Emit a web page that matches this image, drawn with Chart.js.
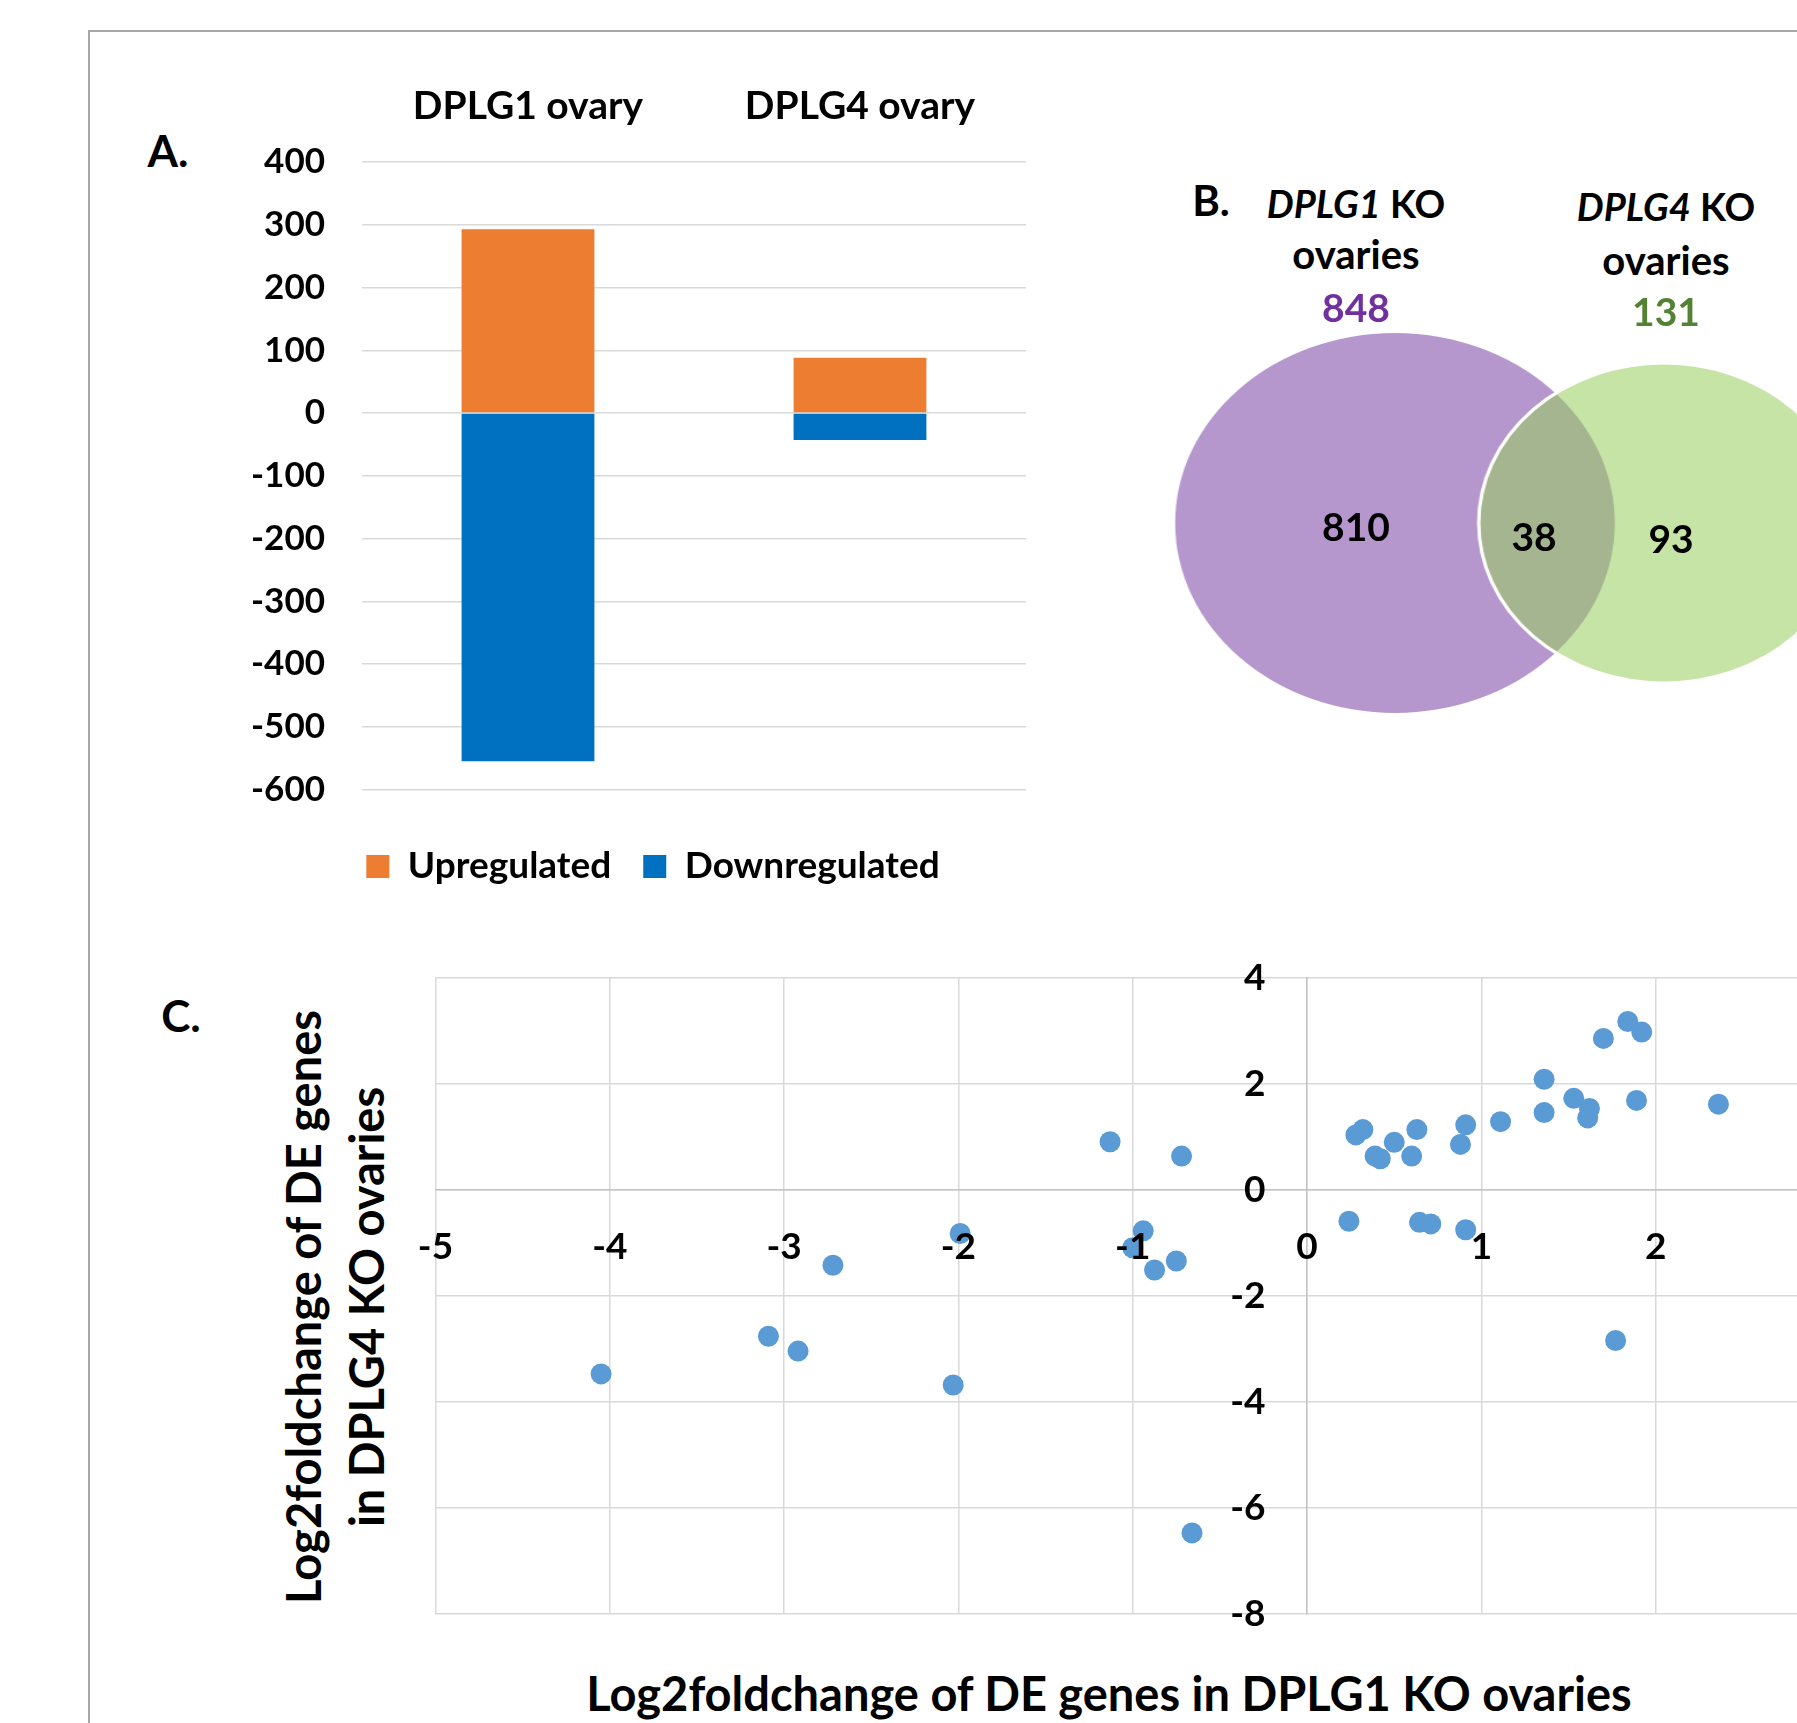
<!DOCTYPE html>
<html>
<head>
<meta charset="utf-8">
<script src="https://cdn.jsdelivr.net/npm/chart.js@4.4.1/dist/chart.umd.min.js"></script>
<style>
  html, body { margin: 0; padding: 0; background: #fff; width: 1797px; height: 1723px; overflow: hidden; }
  body { position: relative; font-family: Lato, "Open Sans", sans-serif; font-weight: 700; color: #000; }
  .frame { position: absolute; left: 88px; top: 30px; width: 1800px; height: 1800px;
           border-left: 2px solid #a6a6a6; border-top: 2px solid #a6a6a6; }
  .box { position: absolute; }
  .t { position: absolute; transform: translate(-50%, -50%); white-space: nowrap; line-height: 1; }
</style>
</head>
<body>
<div class="frame"></div>

<div class="box" style="left:200px;top:60px;width:880px;height:835px"><canvas id="chartA"></canvas></div>
<div class="box" style="left:1150px;top:300px;width:680px;height:446px;transform:scaleX(1.157);transform-origin:0 0"><canvas id="chartB"></canvas></div>
<div class="box" style="left:400px;top:940px;width:1460px;height:700px"><canvas id="chartC"></canvas></div>

<div class="t" style="left:168px;top:150px;font-size:44px">A.</div>
<div class="t" style="left:1211px;top:200px;font-size:42px">B.</div>
<div class="t" style="left:181px;top:1015px;font-size:44px">C.</div>

<div class="t" style="left:1356px;top:203px;font-size:38px"><i>DPLG1</i> KO</div>
<div class="t" style="left:1356px;top:254px;font-size:40px">ovaries</div>
<div class="t" style="left:1356px;top:307px;font-size:39px;color:#7030a0" id="total1"></div>
<div class="t" style="left:1666px;top:206px;font-size:38px"><i>DPLG4</i> KO</div>
<div class="t" style="left:1666px;top:260px;font-size:40px">ovaries</div>
<div class="t" style="left:1666px;top:311px;font-size:39px;color:#548235" id="total2"></div>
<div class="t" style="left:1356px;top:526px;font-size:39px" id="only1"></div>
<div class="t" style="left:1534px;top:536px;font-size:39px" id="both"></div>
<div class="t" style="left:1671px;top:538px;font-size:39px" id="only2"></div>

<div class="t" style="left:335px;top:1307px;font-size:47px;line-height:63px;text-align:center;transform:translate(-50%,-50%) rotate(-90deg)">Log2foldchange of DE genes<br>in DPLG4 KO ovaries</div>
<div class="t" style="left:1109px;top:1693px;font-size:47px">Log2foldchange of DE genes in DPLG1 KO ovaries</div>

<script>
// A: DE gene counts per ovary
const barCategories = ['DPLG1 ovary', 'DPLG4 ovary'];
const upregulated = [293, 88];
const downregulated = [-555, -43];

// B: Venn counts
const vennTotals = [848, 131];
const vennOnly = [810, 93];
const vennShared = 38;

// C: log2 fold change, x = DPLG1 KO, y = DPLG4 KO
const lfcDPLG1 = [-1.13, -0.72, 0.28, 0.32, 0.39, 0.42, 0.50, 0.60, 0.63, 0.88, 0.91, 1.11, 1.36, 1.36,
  1.53, 1.62, 1.61, 1.70, 1.84, 1.92, 1.89, 2.36, 0.24, 0.645, 0.71, 0.91, 1.77, -0.94, -1.0, -0.875,
  -0.75, -1.99, -2.72, -3.09, -2.92, -4.05, -2.03, -0.66];
const lfcDPLG4 = [0.91, 0.64, 1.04, 1.14, 0.64, 0.59, 0.90, 0.64, 1.14, 0.86, 1.23, 1.29, 2.09, 1.46,
  1.73, 1.54, 1.36, 2.86, 3.18, 2.98, 1.69, 1.62, -0.59, -0.61, -0.64, -0.75, -2.84, -0.77, -1.09, -1.51,
  -1.34, -0.82, -1.42, -2.76, -3.04, -3.47, -3.68, -6.47];

document.getElementById('total1').textContent = vennTotals[0];
document.getElementById('total2').textContent = vennTotals[1];
document.getElementById('only1').textContent = vennOnly[0];
document.getElementById('only2').textContent = vennOnly[1];
document.getElementById('both').textContent = vennShared;

Chart.defaults.font.family = 'Lato';
Chart.defaults.font.weight = 'bold';
Chart.defaults.color = '#000';
Chart.defaults.animation = false;

const fixW = w => s => { s.width = w; };
const fixH = h => s => { s.height = h; };
// axes drawn inside the plot: take no room, no label overhang
const noRoom = s => {
  if (s.isHorizontal()) s.height = 0; else s.width = 0;
  s.paddingLeft = s.paddingRight = s.paddingTop = s.paddingBottom = 0;
};

new Chart(document.getElementById('chartA'), {
  type: 'bar',
  data: {
    labels: barCategories,
    datasets: [
      {label: 'Upregulated', data: upregulated, backgroundColor: '#ed7d31'},
      {label: 'Downregulated', data: downregulated, backgroundColor: '#0070c0'}
    ]
  },
  options: {
    responsive: true,
    maintainAspectRatio: false,
    events: [],
    layout: {padding: {left: 26, right: 0, top: 0, bottom: 0}},
    barPercentage: 0.4,
    categoryPercentage: 1.0,
    plugins: {
      tooltip: {enabled: false},
      legend: {
        position: 'bottom',
        labels: {boxWidth: 23, boxHeight: 23, padding: 32, font: {size: 37, weight: 'bold'}}
      }
    },
    scales: {
      x: {
        stacked: true, position: 'top',
        grid: {display: false}, border: {display: false},
        ticks: {font: {size: 39}, padding: 24},
        afterFit: fixH(102)
      },
      xB: {
        position: 'bottom', grid: {display: false}, border: {display: false},
        ticks: {display: false}, afterFit: fixH(26.5)
      },
      y: {
        stacked: true, min: -600, max: 400,
        ticks: {stepSize: 100, font: {size: 35}, padding: 37},
        grid: {color: '#d9d9d9', lineWidth: 1.5, drawTicks: false},
        border: {display: false},
        afterFit: fixW(136)
      },
      yR: {
        position: 'right', grid: {display: false}, border: {display: false},
        ticks: {display: false}, afterFit: fixW(54)
      }
    }
  }
});

new Chart(document.getElementById('chartB'), {
  type: 'scatter',
  data: {
    datasets: [
      {label: 'DPLG4 KO ovaries', data: [{x: 1, y: 0}], order: 0, clip: false,
       pointRadius: 160, pointHoverRadius: 160, backgroundColor: 'rgba(151,206,93,0.55)',
       borderColor: '#ffffff', borderWidth: 3},
      {label: 'DPLG1 KO ovaries', data: [{x: 0, y: 0}], order: 1, clip: false,
       pointRadius: 190, pointHoverRadius: 190, backgroundColor: '#b597cd', borderWidth: 0}
    ]
  },
  options: {
    responsive: true,
    maintainAspectRatio: false,
    events: [],
    layout: {padding: 0, autoPadding: false},
    plugins: {legend: {display: false}, tooltip: {enabled: false}},
    scales: {
      x: {display: false, min: -0.911, max: 2.015},
      y: {display: false, min: -1, max: 1}
    }
  }
});

new Chart(document.getElementById('chartC'), {
  type: 'scatter',
  data: {
    datasets: [{
      label: 'DE genes',
      data: lfcDPLG1.map((x, i) => ({x, y: lfcDPLG4[i]})),
      backgroundColor: '#5b9bd5',
      borderWidth: 0,
      pointRadius: 10.5,
      pointHoverRadius: 10.5
    }]
  },
  options: {
    responsive: true,
    maintainAspectRatio: false,
    events: [],
    layout: {padding: {left: 35.5, top: 38, right: 30, bottom: 26}, autoPadding: false},
    plugins: {legend: {display: false}, tooltip: {enabled: false}},
    scales: {
      x: {
        type: 'linear', min: -5, max: 3, position: {y: 0},
        ticks: {stepSize: 1, font: {size: 37}, padding: 35, z: 1},
        grid: {color: '#d9d9d9', lineWidth: 1.5, drawTicks: false},
        border: {color: '#c4c4c4', width: 1.5},
        afterFit: noRoom
      },
      y: {
        type: 'linear', min: -8, max: 4, position: {x: 0},
        // labels sit right-aligned on the x=0 line, so pad them with spaces
        ticks: {stepSize: 2, font: {size: 37}, z: 1, callback: v => v + '\u2002\u2002\u2009'},
        grid: {color: '#d9d9d9', lineWidth: 1.5, drawTicks: false},
        border: {color: '#c4c4c4', width: 1.5},
        afterFit: noRoom
      }
    }
  }
});
</script>
</body>
</html>
